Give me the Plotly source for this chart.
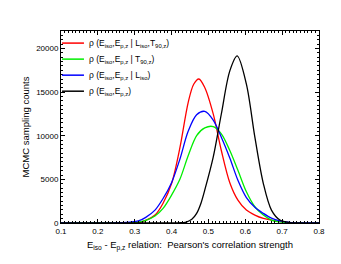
import plotly.graph_objects as go

# x positions (Pearson's correlation strength) at which values were read
x_red = [0.10, 0.25, 0.29, 0.31, 0.33, 0.355, 0.377, 0.40, 0.4225, 0.445, 0.46, 0.474, 0.49, 0.513, 0.535, 0.558, 0.58, 0.603, 0.626, 0.649, 0.671, 0.694, 0.72, 0.75, 0.80]
y_red = [0, 0, 0, 60, 300, 910, 2270, 4520, 8600, 13800, 15900, 16500, 15530, 12500, 8310, 4620, 2620, 1480, 910, 530, 340, 150, 50, 10, 0]

x_green = [0.10, 0.25, 0.287, 0.31, 0.33, 0.355, 0.377, 0.40, 0.4225, 0.445, 0.468, 0.49, 0.513, 0.535, 0.558, 0.58, 0.603, 0.626, 0.649, 0.671, 0.694, 0.72, 0.75, 0.80]
y_green = [0, 0, 30, 100, 300, 800, 1670, 3190, 5000, 7700, 10020, 10900, 11050, 10220, 8310, 6040, 3570, 1860, 910, 340, 130, 30, 0, 0]

x_blue = [0.10, 0.25, 0.287, 0.31, 0.33, 0.355, 0.377, 0.40, 0.4225, 0.445, 0.468, 0.49, 0.513, 0.535, 0.558, 0.58, 0.603, 0.626, 0.649, 0.671, 0.694, 0.72, 0.75, 0.80]
y_blue = [0, 0, 100, 230, 650, 1480, 2810, 4620, 7300, 10500, 12400, 12790, 11800, 9830, 7450, 4900, 2910, 1800, 1100, 560, 250, 80, 20, 0]

x_black = [0.10, 0.40, 0.42, 0.44, 0.455, 0.468, 0.48, 0.49, 0.513, 0.535, 0.558, 0.578, 0.603, 0.626, 0.649, 0.671, 0.694, 0.72, 0.75, 0.80]
y_black = [0, 0, 20, 110, 420, 1100, 2300, 3760, 7550, 12490, 17430, 19150, 15910, 9830, 4520, 1480, 340, 50, 0, 0]

names = [
    "ρ (E<sub>iso</sub>,E<sub>p,z</sub> | L<sub>iso</sub>,T<sub>90,z</sub>)",
    "ρ (E<sub>iso</sub>,E<sub>p,z</sub> | T<sub>90,z</sub>)",
    "ρ (E<sub>iso</sub>,E<sub>p,z</sub> | L<sub>iso</sub>)",
    "ρ (E<sub>iso</sub>,E<sub>p,z</sub>)",
]
colors = ["#ff0000", "#00ee00", "#0000ff", "#000000"]
series = [(x_red, y_red), (x_green, y_green), (x_blue, y_blue), (x_black, y_black)]

font_family = "Liberation Sans, Arial, sans-serif"

fig = go.Figure()
shapes = []
annotations = []
for i, ((xs, ys), nm, c) in enumerate(zip(series, names, colors)):
    fig.add_trace(go.Scatter(x=xs, y=ys, mode="lines", name=nm,
                             line=dict(color=c, width=1.3, shape="spline", smoothing=0.9)))
    # manual legend entry (compact spacing like the reference)
    ly = 0.937 - i * 0.0835
    shapes.append(dict(type="line", xref="paper", yref="paper",
                       x0=0.004, x1=0.089, y0=ly, y1=ly,
                       line=dict(color=c, width=1.5)))
    annotations.append(dict(xref="paper", yref="paper", x=0.1, y=ly,
                            xanchor="left", yanchor="middle", showarrow=False,
                            text=nm, font=dict(size=8.5, family=font_family, color="black")))

axis_common = dict(
    showline=True, linecolor="black", linewidth=1, mirror="allticks",
    ticks="inside", ticklen=4, tickcolor="black", tickwidth=1,
    showgrid=False, zeroline=False,
    tickfont=dict(size=8, family=font_family, color="black"),
)

fig.update_layout(
    width=333, height=256,
    margin=dict(l=53, r=22, t=23, b=41),
    paper_bgcolor="white", plot_bgcolor="white",
    font=dict(family=font_family, color="black"),
    xaxis=dict(range=[0.1, 0.8], dtick=0.1, tickformat=".1f",
               minor=dict(dtick=0.01, ticks="inside", ticklen=2, tickcolor="black"),
               title=dict(text="E<sub>iso</sub> - E<sub>p,z</sub> relation:  Pearson's correlation strength",
                          font=dict(size=9.5), standoff=6),
               **axis_common),
    yaxis=dict(range=[0, 22000], dtick=5000, tickformat="d",
               minor=dict(dtick=500, ticks="inside", ticklen=2, tickcolor="black"),
               title=dict(text="MCMC sampling counts", font=dict(size=9.5), standoff=4),
               **axis_common),
    shapes=shapes,
    annotations=annotations,
    showlegend=False,
)

fig.write_html("out.html")
